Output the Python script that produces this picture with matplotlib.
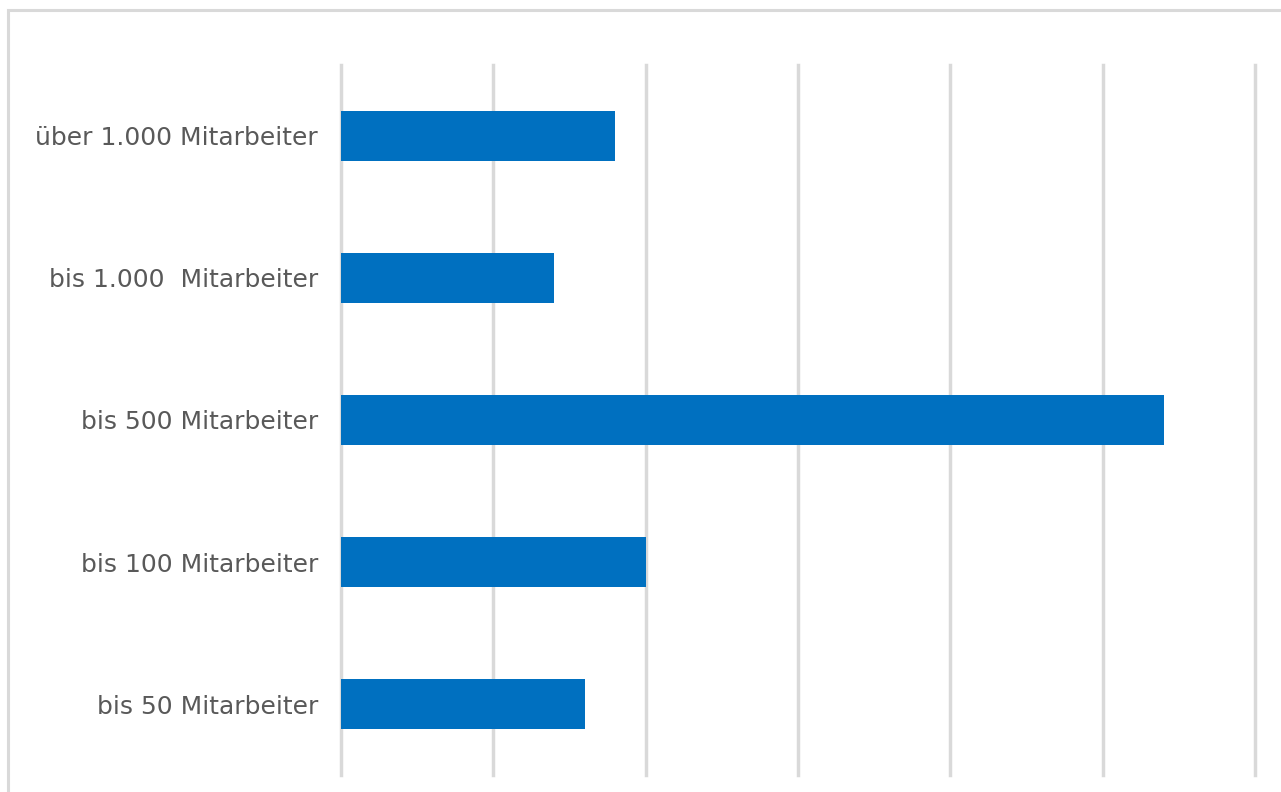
import matplotlib.pyplot as plt
from matplotlib.patches import Rectangle

categories = ["bis 50 Mitarbeiter", "bis 100 Mitarbeiter", "bis 500 Mitarbeiter",
              "bis 1.000  Mitarbeiter", "über 1.000 Mitarbeiter"]
values = [1.6, 2.0, 5.4, 1.4, 1.8]
grid_ticks = [0, 1, 2, 3, 4, 5, 6]

W, H = 1281, 792
fig = plt.figure(figsize=(W / 100, H / 100), dpi=100)

# light frame around the chart area (right/bottom edges run off the image)
fig.patches.append(Rectangle((8 / W, -0.05), 1.2, (H - 10) / H + 0.05,
                             transform=fig.transFigure, fill=False,
                             edgecolor="#d9d9d9", linewidth=2.2))

ax = fig.add_axes([341 / W, (H - 775) / H, (1255 - 341) / W, (775 - 65) / H])
ax.barh(range(len(categories)), values, height=0.35, color="#0070C0", zorder=3)

ax.set_xlim(0, 6)
ax.set_ylim(-0.5, len(categories) - 0.5)
ax.set_xticks(grid_ticks)
ax.set_xticklabels([])
ax.set_yticks(range(len(categories)))
ax.set_yticklabels(categories, fontsize=18, color="#595959", family="DejaVu Sans")
ax.tick_params(axis="both", length=0)
ax.tick_params(axis="y", pad=16.5)
ax.grid(axis="x", color="#d9d9d9", linewidth=2.5, zorder=0)
for gl in ax.get_xgridlines():
    gl.set_clip_on(False)
for s in ax.spines.values():
    s.set_visible(False)

fig.savefig("out.png", dpi=100)
